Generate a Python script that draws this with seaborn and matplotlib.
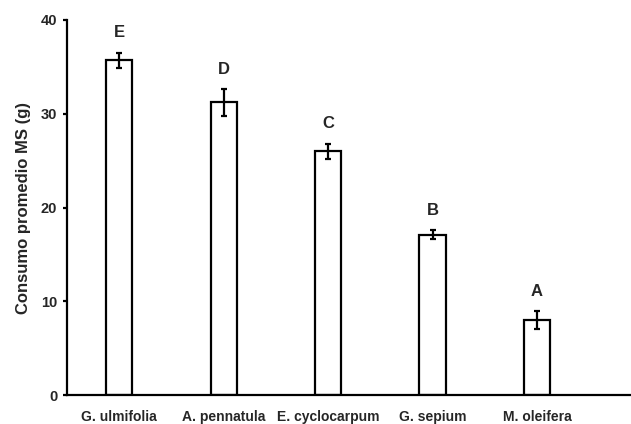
import matplotlib
matplotlib.use("Agg")
import matplotlib.pyplot as plt
import seaborn as sns
import pandas as pd

species = ["G. ulmifolia", "A. pennatula", "E. cyclocarpum", "G. sepium", "M. oleifera"]
means = [35.7, 31.2, 26.0, 17.1, 8.0]
errors = [0.8, 1.4, 0.8, 0.5, 0.95]
letters = ["E", "D", "C", "B", "A"]

sns.set_theme(style="white")
plt.rcParams['font.family'] = ['Liberation Sans', 'DejaVu Sans']

df = pd.DataFrame({"especie": species, "consumo": means})

fig = plt.figure(figsize=(6.31, 4.24), dpi=100)
ax = fig.add_axes([0.106, 0.068, 0.894, 0.885])

sns.barplot(data=df, x="especie", y="consumo", ax=ax, color="white",
            edgecolor="black", linewidth=1.6, width=0.25, errorbar=None)
ax.errorbar(range(len(species)), means, yerr=errors, fmt="none",
            ecolor="black", elinewidth=1.6, capsize=2.5, capthick=1.6)

for i, (m, e, l) in enumerate(zip(means, errors, letters)):
    ax.annotate(l, (i, m + e), xytext=(0, 20), textcoords="offset pixels",
                ha="center", va="center", fontsize=12, fontweight="bold")

ax.set_xlim(-0.5, 4.9)
ax.set_ylim(0, 40)
ax.set_yticks([0, 10, 20, 30, 40])
ax.set_xlabel("")
ax.set_ylabel("Consumo promedio MS (g)", fontsize=12, fontweight="bold", labelpad=7)
for s in ["top", "right"]:
    ax.spines[s].set_visible(False)
for s in ["left", "bottom"]:
    ax.spines[s].set_color("black")
    ax.spines[s].set_linewidth(1.6)
ax.tick_params(axis="y", direction="out", length=3, width=1.6, color="black",
               left=True, labelsize=10.5, pad=4)
ax.tick_params(axis="x", length=0, labelsize=10, pad=11)
for t in ax.get_xticklabels() + ax.get_yticklabels():
    t.set_fontweight("bold")

fig.savefig("out.png", dpi=100)
